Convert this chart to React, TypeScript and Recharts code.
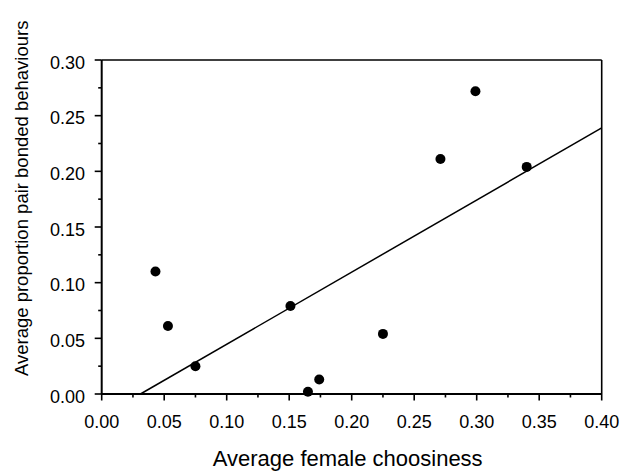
import React from 'react';
import { ScatterChart, Scatter, XAxis, YAxis, ReferenceLine, Label } from 'recharts';

const choosiness = [0.043, 0.053, 0.075, 0.151, 0.165, 0.174, 0.225, 0.271, 0.299, 0.340];
const pairBonded = [0.110, 0.061, 0.025, 0.079, 0.002, 0.013, 0.054, 0.211, 0.272, 0.204];
const fitX = [0.031, 0.4];
const fitY = [0, 0.239];
const xTicks = [0, 0.025, 0.05, 0.075, 0.1, 0.125, 0.15, 0.175, 0.2, 0.225, 0.25, 0.275, 0.3, 0.325, 0.35, 0.375, 0.4];
const yTicks = [0, 0.025, 0.05, 0.075, 0.1, 0.125, 0.15, 0.175, 0.2, 0.225, 0.25, 0.275, 0.3];
const xTitle = 'Average female choosiness';
const yTitle = 'Average proportion pair bonded behaviours';

const points = choosiness.map((x, i) => ({ x, y: pairBonded[i] }));
const FONT = '"Liberation Sans", Arial, Helvetica, sans-serif';

const isMajor = (v: number) => Math.round(v * 1000) % 50 === 0;

const XTick = (props: any) => {
  const { x, y, payload } = props;
  const v = payload.value as number;
  const major = isMajor(v);
  return (
    <g>
      <line x1={x} y1={y} x2={x} y2={y + (major ? 6.5 : 3.5)} stroke="#000" strokeWidth={1.6} />
      {major && (
        <text x={x} y={y + 34.3} textAnchor="middle" fontSize={18} fontFamily={FONT} fill="#000">
          {v.toFixed(2)}
        </text>
      )}
    </g>
  );
};

const YTick = (props: any) => {
  const { x, y, payload } = props;
  const v = payload.value as number;
  const major = isMajor(v);
  return (
    <g>
      <line x1={x} y1={y} x2={x - (major ? 7 : 3.5)} y2={y} stroke="#000" strokeWidth={1.6} />
      {major && (
        <text x={x - 16.7} y={y + 8.5} textAnchor="end" fontSize={18} fontFamily={FONT} fill="#000">
          {v.toFixed(2)}
        </text>
      )}
    </g>
  );
};

const Dot = (props: any) => <circle cx={props.cx} cy={props.cy} r={5} fill="#000" />;

export default function App() {
  return (
    <div style={{ position: 'absolute', left: 0, top: 0, background: '#fff' }}>
      <ScatterChart width={633} height={471} margin={{ top: 60, right: 31.3, bottom: 0, left: 0 }}>
        <XAxis
          type="number"
          dataKey="x"
          domain={[0, 0.4]}
          ticks={xTicks}
          interval={0}
          height={77}
          tickSize={0}
          tickMargin={0}
          tickLine={false}
          tick={<XTick />}
          axisLine={{ stroke: '#000', strokeWidth: 2 }}
        >
          <Label
            content={(p: any) => {
              const vb = p.viewBox;
              return (
                <text x={vb.x + vb.width / 2 - 4} y={vb.y + 72} textAnchor="middle" fontSize={22} fontFamily={FONT} fill="#000">
                  {xTitle}
                </text>
              );
            }}
          />
        </XAxis>
        <YAxis
          type="number"
          dataKey="y"
          domain={[0, 0.3]}
          ticks={yTicks}
          interval={0}
          width={101.7}
          tickSize={0}
          tickMargin={0}
          tickLine={false}
          tick={<YTick />}
          axisLine={{ stroke: '#000', strokeWidth: 2 }}
        >
          <Label
            content={(p: any) => {
              const vb = p.viewBox;
              const cx = vb.x + 28.5;
              const cy = 198.3;
              return (
                <text x={cx} y={cy} transform={`rotate(-90 ${cx} ${cy})`} textAnchor="middle" fontSize={18.5} fontFamily={FONT} fill="#000">
                  {yTitle}
                </text>
              );
            }}
          />
        </YAxis>
        <ReferenceLine y={0.3} stroke="#000" strokeWidth={1.6} />
        <ReferenceLine x={0.4} stroke="#000" strokeWidth={1.6} />
        <ReferenceLine
          segment={[{ x: fitX[0], y: fitY[0] }, { x: fitX[1], y: fitY[1] }]}
          stroke="#000"
          strokeWidth={1.5}
          ifOverflow="visible"
        />
        <Scatter data={points} shape={<Dot />} isAnimationActive={false} />
      </ScatterChart>
    </div>
  );
}
